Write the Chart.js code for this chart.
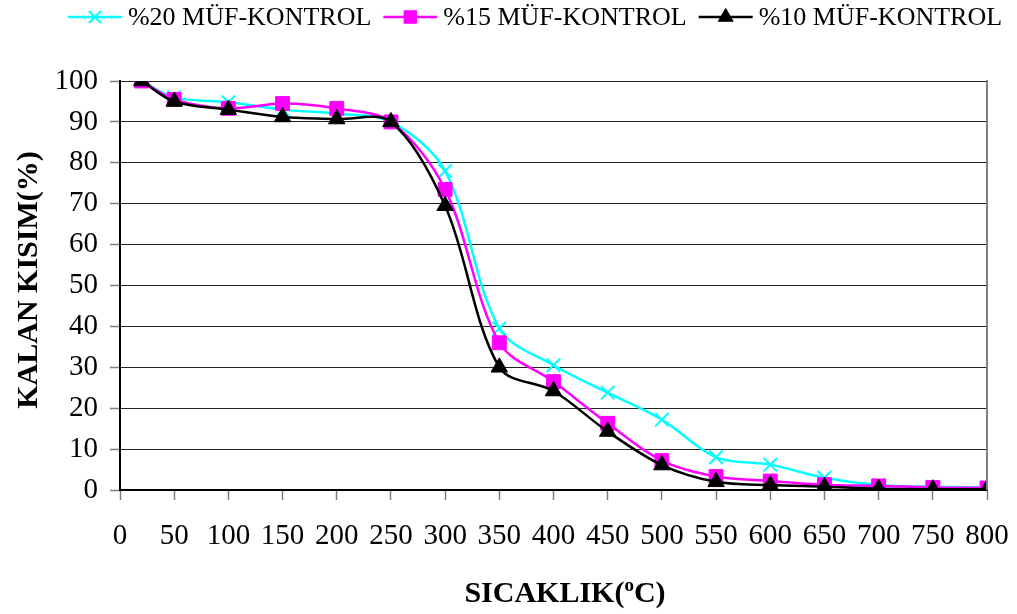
<!DOCTYPE html>
<html>
<head>
<meta charset="utf-8">
<script src="https://cdn.jsdelivr.net/npm/chart.js@4.4.1/dist/chart.umd.min.js"></script>
<style>
  html, body { margin: 0; padding: 0; background: #ffffff; }
  #wrap { width: 1017px; height: 614px; }
</style>
</head>
<body>
<div id="wrap"><canvas id="c" width="1017" height="614"></canvas></div>
<script>
// Temperature (°C) at which the remaining mass was recorded
const temperatures = [20, 50, 100, 150, 200, 250, 300, 350, 400, 450, 500, 550, 600, 650, 700, 750, 800];

// Remaining mass (%) for each sample
const kontrol20 = [100, 96, 94.8, 93, 92, 90, 78, 39.5, 30.5, 23.8, 17.2, 8, 6.2, 3, 1.2, 0.8, 0.6];
const kontrol15 = [100, 95.5, 93.3, 94.5, 93.3, 90, 73.5, 36, 26.5, 16.3, 7.2, 3.3, 2.2, 1.3, 1, 0.6, 0.5];
const kontrol10 = [100, 95, 93, 91.2, 90.7, 90, 69.5, 30, 24.2, 14.3, 6.1, 2, 1.2, 0.8, 0.3, 0.2, 0.2];

const seriesNames = ['%20 MÜF-KONTROL', '%15 MÜF-KONTROL', '%10 MÜF-KONTROL'];

// Axis tick values
const xTickValues = [0, 50, 100, 150, 200, 250, 300, 350, 400, 450, 500, 550, 600, 650, 700, 750, 800];
const yTickValues = [0, 10, 20, 30, 40, 50, 60, 70, 80, 90, 100];

const xTitle = ['SICAKLIK(', 'o', 'C)'];
const yTitle = 'KALAN KISIM(%)';

const SERIF = "'Liberation Serif', 'Times New Roman', serif";

const toPoints = vals => temperatures.map((t, i) => ({ x: t, y: vals[i] }));

const styles = [
  { color: '#00FFFF', pointStyle: 'crossRot', radius: 9.5, pointBorderWidth: 2 },
  { color: '#FF00FF', pointStyle: 'rect', radius: 9.8, pointBorderWidth: 1 },
  { color: '#000000', pointStyle: 'triangle', radius: 9.5, pointBorderWidth: 1 }
];

const seriesValues = [kontrol20, kontrol15, kontrol10];

const datasets = seriesValues.map((vals, i) => ({
  label: seriesNames[i],
  data: toPoints(vals),
  borderColor: styles[i].color,
  backgroundColor: styles[i].color,
  pointBackgroundColor: styles[i].color,
  pointBorderColor: styles[i].color,
  pointStyle: styles[i].pointStyle,
  pointRadius: styles[i].radius,
  pointBorderWidth: styles[i].pointBorderWidth,
  borderWidth: 2.5,
  tension: 0.33,
  fill: false,
  order: 3 - i
}));

// Frame, axis titles and legend drawn on top of the chart
const decorations = {
  id: 'decorations',
  afterDraw(chart) {
    const ctx = chart.ctx;
    const area = chart.chartArea;
    ctx.save();

    // right-hand frame edge
    ctx.strokeStyle = '#808080';
    ctx.lineWidth = 2;
    ctx.beginPath();
    ctx.moveTo(area.right, area.top - 1);
    ctx.lineTo(area.right, area.bottom);
    ctx.stroke();

    // y-axis title
    ctx.fillStyle = '#000';
    ctx.font = "bold 30px " + SERIF;
    ctx.textAlign = 'center';
    ctx.textBaseline = 'middle';
    ctx.save();
    ctx.translate(29, 280);
    ctx.rotate(-Math.PI / 2);
    ctx.fillText(yTitle, 0, 0);
    ctx.restore();

    // x-axis title with superscript degree "o"
    const bigFont = "bold 30px " + SERIF;
    const smallFont = "bold 19px " + SERIF;
    ctx.textAlign = 'left';
    ctx.textBaseline = 'alphabetic';
    ctx.font = bigFont;
    const w1 = ctx.measureText(xTitle[0]).width;
    const w3 = ctx.measureText(xTitle[2]).width;
    ctx.font = smallFont;
    const w2 = ctx.measureText(xTitle[1]).width;
    let tx = 565 - (w1 + w2 + w3) / 2;
    const baseY = 602;
    ctx.font = bigFont;
    ctx.fillText(xTitle[0], tx, baseY);
    tx += w1;
    ctx.font = smallFont;
    ctx.fillText(xTitle[1], tx, baseY - 11);
    tx += w2;
    ctx.font = bigFont;
    ctx.fillText(xTitle[2], tx, baseY);

    // legend
    const legendFont = "26px " + SERIF;
    ctx.font = legendFont;
    const sampleW = 54;
    const gapText = 6;
    const gapItem = 12;
    const widths = seriesNames.map(n => ctx.measureText(n).width);
    const total = widths.reduce((a, w) => a + sampleW + gapText + w, 0) + gapItem * (seriesNames.length - 1);
    let lx = 535 - total / 2;
    const ly = 17;
    seriesNames.forEach((name, i) => {
      const st = styles[i];
      ctx.strokeStyle = st.color;
      ctx.fillStyle = st.color;
      ctx.lineWidth = 2.5;
      ctx.beginPath();
      ctx.moveTo(lx, ly);
      ctx.lineTo(lx + sampleW, ly);
      ctx.stroke();
      ctx.lineWidth = st.pointBorderWidth;
      Chart.helpers.drawPoint(ctx, {
        pointStyle: st.pointStyle,
        radius: st.radius * 0.9,
        rotation: 0,
        borderWidth: st.pointBorderWidth
      }, lx + sampleW / 2, ly);
      ctx.fillStyle = '#000';
      ctx.font = legendFont;
      ctx.textAlign = 'left';
      ctx.textBaseline = 'middle';
      ctx.fillText(name, lx + sampleW + gapText, ly + 1);
      lx += sampleW + gapText + widths[i] + gapItem;
    });

    ctx.restore();
  }
};

new Chart(document.getElementById('c'), {
  type: 'line',
  data: { datasets },
  options: {
    responsive: false,
    animation: false,
    devicePixelRatio: 1,
    layout: { padding: { left: 0, right: 30, top: 81, bottom: 0 } },
    plugins: {
      legend: { display: false },
      tooltip: { enabled: false },
      title: { display: false }
    },
    scales: {
      x: {
        type: 'linear',
        min: 0,
        max: 800,
        afterBuildTicks: s => { s.ticks = xTickValues.map(v => ({ value: v })); },
        afterFit: s => { s.height = 124; s.paddingLeft = 0; s.paddingRight = 0; },
        grid: {
          display: true,
          drawOnChartArea: false,
          drawTicks: true,
          tickLength: 10,
          tickColor: '#808080',
          tickWidth: 1.5
        },
        border: { display: true, color: '#000000', width: 2 },
        ticks: {
          autoSkip: false,
          maxRotation: 0,
          padding: 19,
          color: '#000000',
          font: { family: SERIF, size: 29 }
        }
      },
      y: {
        type: 'linear',
        min: 0,
        max: 100,
        afterBuildTicks: s => { s.ticks = yTickValues.map(v => ({ value: v })); },
        afterFit: s => { s.width = 120; },
        grid: {
          display: true,
          drawOnChartArea: true,
          color: '#222222',
          lineWidth: 1,
          drawTicks: true,
          tickLength: 10,
          tickColor: '#808080',
          tickWidth: 1.5
        },
        border: { display: true, color: '#000000', width: 2 },
        ticks: {
          padding: 12,
          color: '#000000',
          font: { family: SERIF, size: 29 }
        }
      }
    }
  },
  plugins: [decorations]
});
</script>
</body>
</html>
